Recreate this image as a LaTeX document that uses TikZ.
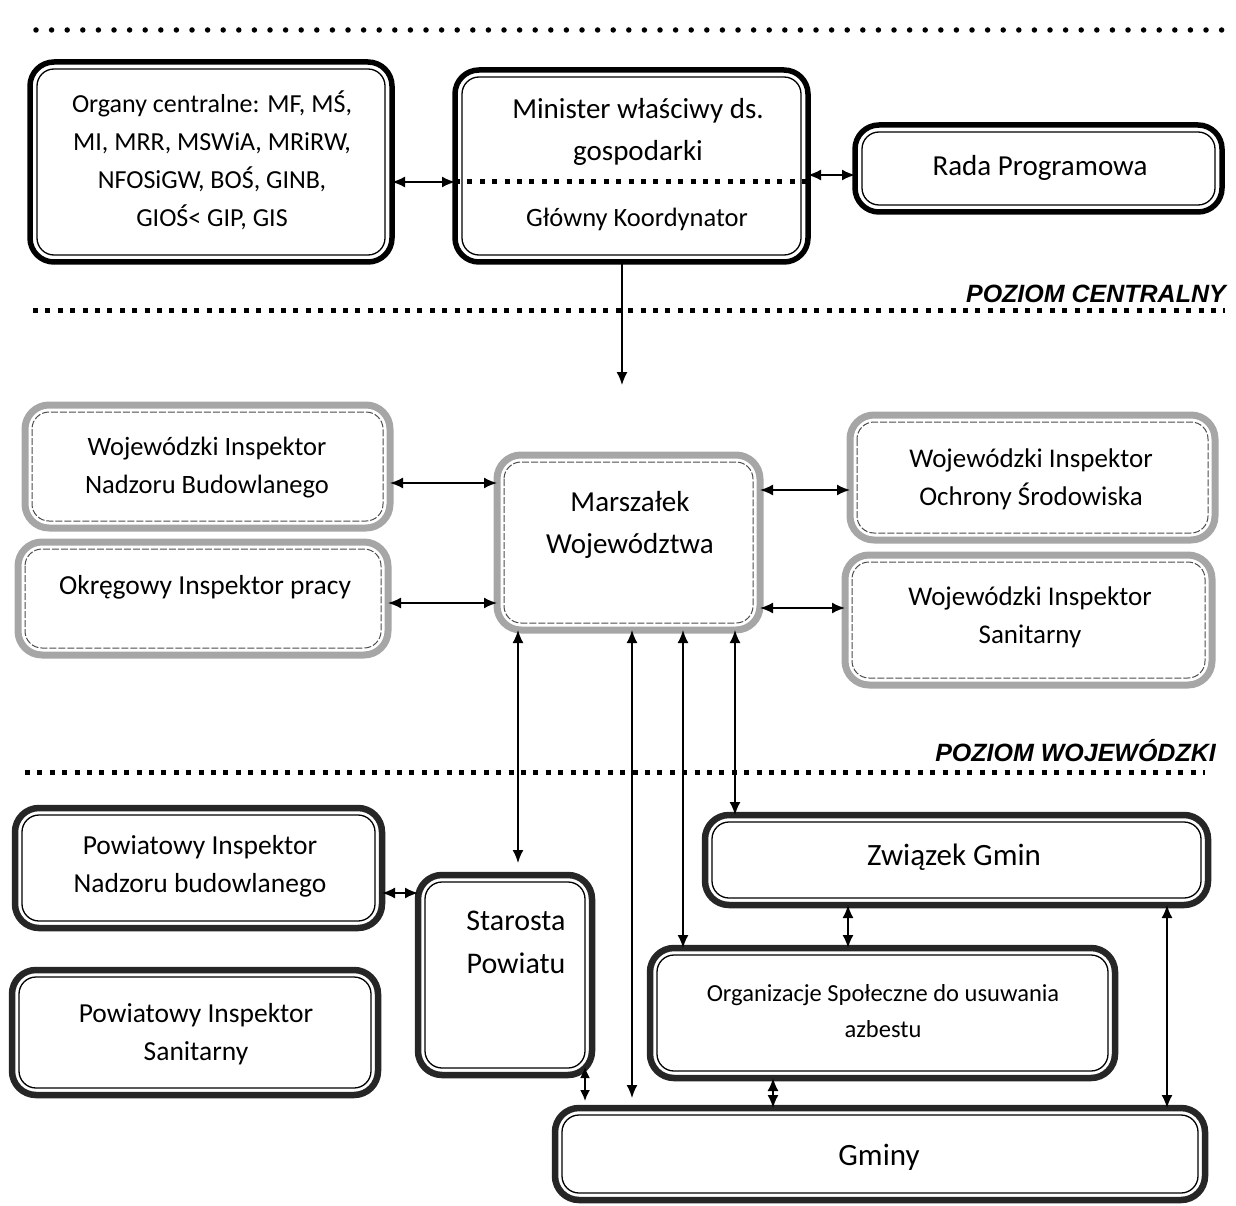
\documentclass[tikz,border=0pt]{standalone}
\usepackage{fontspec}
\setmainfont{Carlito}
\newfontfamily\lvlfont{Liberation Sans}
\usetikzlibrary{arrows.meta,calc}
\newcommand\mybox[7]{%
  \node[#6,minimum width={(#4-#2)*1pt},minimum height={(#5-#3)*1pt}] (#1) at ({(#2+#4)/2},{(#3+#5)/2}) {};
  \draw[#7] ([xshift=7pt,yshift=-7pt]#1.north west) rectangle ([xshift=-7pt,yshift=7pt]#1.south east);}
\newcommand\fs[2]{\fontsize{#1}{#2}\selectfont}
\begin{document}
\begin{tikzpicture}[x=1pt,y=-1pt,
 outerblack/.style={draw=black,line width=5.5pt,rounded corners=24pt,inner sep=0pt,outer sep=0pt},
 outerdark/.style={draw=black!85,line width=6.5pt,rounded corners=24pt,inner sep=0pt,outer sep=0pt},
 outergray/.style={draw=black!35,line width=7pt,rounded corners=24pt,inner sep=0pt,outer sep=0pt},
 innerline/.style={draw=black,line width=1.3pt,rounded corners=17pt},
 innergray/.style={draw=black!70,line width=1pt,rounded corners=17pt,dash pattern=on 7pt off 2pt},
 txt/.style={font=\fs{26}{38},align=center,inner sep=0pt},
 lvltxt/.style={font=\lvlfont\bfseries\itshape\fs{25}{30},anchor=base east,inner sep=0pt},
 link/.style={line width=1.8pt,{Latex[length=13pt,width=11pt]}-{Latex[length=13pt,width=11pt]}},
 shortlink/.style={line width=1.8pt,{Latex[length=11pt,width=10pt]}-{Latex[length=11pt,width=10pt]}},
 oneway/.style={line width=1.6pt,-{Latex[length=13pt,width=11pt]}},
 rounddots/.style={line width=5.5pt,line cap=round,dash pattern=on 0pt off 15.6pt},
 sqdots/.style={line width=5pt,dash pattern=on 5pt off 7.4pt},
]
\useasboundingbox (0,0) rectangle (1236,1206);

% level separators
\draw[rounddots] (36,30) -- (1228,30);
\draw[sqdots] (33,310) -- (1225,310);
\draw[sqdots] (25,772) -- (1205,772);
\node[lvltxt] (lc) at (1226,302) {POZIOM CENTRALNY};
\node[lvltxt] (lw) at (1216,761) {POZIOM WOJEWÓDZKI};

% central level
\mybox{organy}{30}{62}{392}{262}{outerblack}{innerline}
\mybox{minister}{455}{70}{808}{262}{outerblack}{innerline}
\mybox{rada}{855}{125}{1222}{212}{outerblack}{innerline}
\node[txt] (organyt) at (212,160) {Organy centralne: MF, MŚ,\\MI, MRR, MSWiA, MRiRW,\\NFOSiGW, BOŚ, GINB,\\GIOŚ< GIP, GIS};
\node[txt,font=\fs{29}{42}] (ministert) at (638,132) {Minister właściwy ds.\\gospodarki};
\node[txt,font=\fs{26.5}{38}] (glownyt) at (637,219) {Główny Koordynator};
\node[txt,font=\fs{29}{38}] (radat) at (1040,168) {Rada Programowa};
\draw[sqdots] (minister.west |- 0,182) -- (minister.east |- 0,182);

% voivodeship level
\mybox{winb}{25}{405}{390}{528}{outergray}{innergray}
\mybox{oip}{18}{542}{388}{655}{outergray}{innergray}
\mybox{marsz}{497}{455}{760}{630}{outergray}{innergray}
\mybox{wios}{850}{415}{1215}{540}{outergray}{innergray}
\mybox{wis}{845}{555}{1212}{685}{outergray}{innergray}
\node[txt,font=\fs{26.5}{38}] (winbt) at (207,468) {Wojewódzki Inspektor\\Nadzoru Budowlanego};
\node[txt,font=\fs{27.5}{38}] (oipt) at (205,587) {Okręgowy Inspektor pracy};
\node[txt,font=\fs{29}{42}] (marszt) at (630,525) {Marszałek\\Województwa};
\node[txt,font=\fs{27}{38}] (wiost) at (1031,479) {Wojewódzki Inspektor\\Ochrony Środowiska};
\node[txt,font=\fs{27}{38}] (wist) at (1030,617) {Wojewódzki Inspektor\\Sanitarny};

% district / commune level
\mybox{pinb}{15}{808}{382}{928}{outerdark}{innerline}
\mybox{pis}{12}{970}{378}{1095}{outerdark}{innerline}
\mybox{star}{418}{875}{592}{1075}{outerdark}{innerline}
\mybox{zw}{705}{815}{1208}{905}{outerdark}{innerline}
\mybox{org}{650}{948}{1115}{1078}{outerdark}{innerline}
\mybox{gminy}{555}{1108}{1205}{1200}{outerdark}{innerline}
\node[txt,font=\fs{27.5}{38}] (pinbt) at (200,866) {Powiatowy Inspektor\\Nadzoru budowlanego};
\node[txt,font=\fs{27.5}{38}] (pist) at (196,1034) {Powiatowy Inspektor\\Sanitarny};
\node[txt,font=\fs{30}{43}] (start) at (516,942) {Starosta\\Powiatu};
\node[txt,font=\fs{31}{38}] (zwt) at (954,857) {Związek Gmin};
\node[txt,font=\fs{24.5}{36}] (orgt) at (883,1011) {Organizacje Społeczne do usuwania\\azbestu};
\node[txt,font=\fs{31}{38}] (gminyt) at (879,1157) {Gminy};

% connector helper coordinates
\coordinate (h1) at (0,182);
\coordinate (h2) at (0,175);
\coordinate (h3) at (0,483);
\coordinate (h4) at (0,603);
\coordinate (h5) at (0,490);
\coordinate (h6) at (0,608);
\coordinate (h7) at (0,893);
\coordinate (v0) at (622,0);
\coordinate (v1) at (518,0);
\coordinate (v2) at (632,0);
\coordinate (v3) at (683,0);
\coordinate (v4) at (735,0);
\coordinate (v5) at (585,0);
\coordinate (v6) at (848,0);
\coordinate (v7) at (773,0);
\coordinate (v8) at (1167,0);
\coordinate (downend) at (622,385);

% connectors
\draw[link] (organy.east |- h1) -- (minister.west |- h1);
\draw[link] (minister.east |- h2) -- (rada.west |- h2);
\draw[oneway] (v0 |- minister.south) -- (downend);
\draw[link] (winb.east |- h3) -- (marsz.west |- h3);
\draw[link] (oip.east |- h4) -- (marsz.west |- h4);
\draw[link] (marsz.east |- h5) -- (wios.west |- h5);
\draw[link] (marsz.east |- h6) -- (wis.west |- h6);
\draw[link,shorten >=12pt] (v1 |- marsz.south) -- (v1 |- star.north);
\draw[link,shorten >=10pt] (v2 |- marsz.south) -- (v2 |- gminy.north);
\draw[link] (v3 |- marsz.south) -- (v3 |- org.north);
\draw[link] (v4 |- marsz.south) -- (v4 |- zw.north);
\draw[link] (pinb.east |- h7) -- (star.west |- h7);
\draw[shortlink,shorten <=-8pt,shorten >=7pt] (v5 |- star.south) -- (v5 |- gminy.north);
\draw[link] (v6 |- zw.south) -- (v6 |- org.north);
\draw[link] (v7 |- org.south) -- (v7 |- gminy.north);
\draw[link] (v8 |- zw.south) -- (v8 |- gminy.north);
\end{tikzpicture}
\end{document}
